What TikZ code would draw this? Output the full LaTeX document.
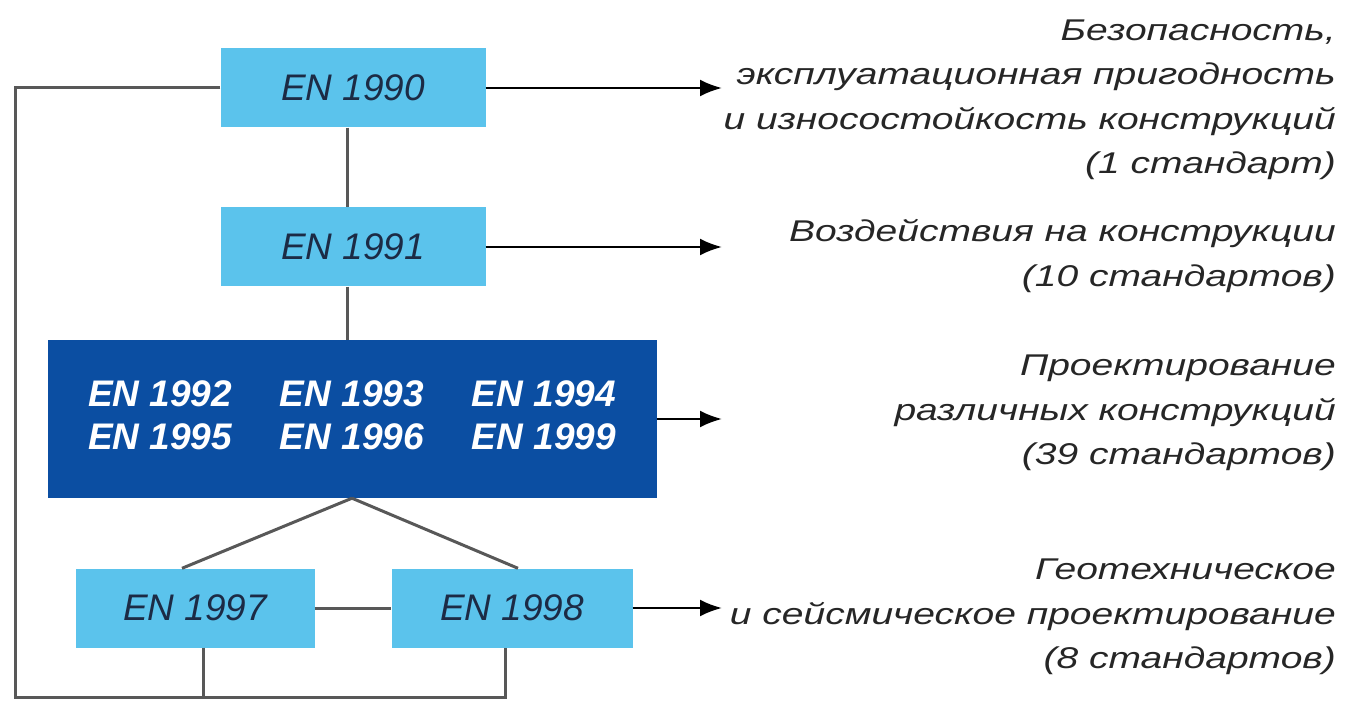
\documentclass[tikz,border=0pt]{standalone}
\usepackage{fontspec}
\setmainfont{Liberation Sans}
\newfontfamily\wide[FakeStretch=1.3]{Liberation Sans}
\usepackage{xcolor}
\usepackage{tikz}
\usetikzlibrary{positioning, calc, arrows.meta}
\definecolor{skyblue}{HTML}{5BC3EC}
\definecolor{deepblue}{HTML}{0B4EA2}
\definecolor{navytext}{HTML}{1C2B45}
\definecolor{linegray}{HTML}{585858}

\begin{document}
\begin{tikzpicture}[x=1pt,y=-1pt,
  ennode/.style={fill=skyblue, draw=none, shape=rectangle, minimum height=79pt, align=center,
    text=navytext, font=\fontsize{37}{44}\selectfont\itshape},
  groupnode/.style={fill=deepblue, draw=none, shape=rectangle, minimum width=609pt, minimum height=158pt,
    text=white, font=\fontsize{37}{43}\selectfont\bfseries\itshape},
  descr/.style={anchor=east, inner sep=0pt, align=right, text=black!85,
    font=\wide\fontsize{30}{44.5}\selectfont\itshape},
  conn/.style={draw=linegray, line width=3pt},
  outarrow/.style={-{Latex[length=22pt,width=17pt]}, draw=black, line width=2.5pt},
]
  \useasboundingbox (0,0) rectangle (1350,703);
  % boxes
  \node[ennode, minimum width=265pt] (en1990) at (353,88) {EN 1990};
  \node[ennode, minimum width=265pt] (en1991) at (353,247) {EN 1991};
  \node[groupnode] (design) at (352,419) {%
    \begin{tabular}{@{}c@{\hspace{48pt}}c@{\hspace{48pt}}c@{}}
    EN 1992 & EN 1993 & EN 1994\\
    EN 1995 & EN 1996 & EN 1999
    \end{tabular}};
  \node[ennode, minimum width=239pt] (en1997) at (195,608) {EN 1997};
  \node[ennode, minimum width=241pt] (en1998) at (512,608) {EN 1998};

  % descriptions
  \node[descr] (txtbasis) at (1336,100) {Безопасность,\\эксплуатационная пригодность\\и износостойкость конструкций\\(1 стандарт)};
  \node[descr] (txtactions) at (1336,256) {Воздействия на конструкции\\(10 стандартов)};
  \node[descr] (txtdesign) at (1336,413) {Проектирование\\различных конструкций\\(39 стандартов)};
  \node[descr] (txtgeo) at (1336,617) {Геотехническое\\и сейсмическое проектирование\\(8 стандартов)};

  % helper points
  \coordinate (loopL) at (15,697);
  \coordinate (drop97) at ([xshift=8pt]en1997.south);
  \coordinate (drop98) at ([xshift=-7pt]en1998.south);
  \coordinate (tip1) at (722,88);
  \coordinate (tip2) at (722,247);
  \coordinate (tip3) at (722,419);
  \coordinate (tip4) at (722,608);

  % connectors
  \path[conn]
    ([xshift=-6pt]en1990.south) edge ([xshift=-6pt]en1991.north)
    ([xshift=-6pt]en1991.south) edge ([xshift=-5pt]design.north)
    (design.south) edge ([xshift=-13pt]en1997.north)
    (design.south) edge ([xshift=6pt]en1998.north)
    (en1997.east) edge (en1998.west);
  \draw[conn] (en1990.west) -| (loopL) -| (drop98);
  \draw[conn] (drop97) -- (drop97 |- loopL);
  \path
    (en1990.east) edge[outarrow] (tip1)
    (en1991.east) edge[outarrow] (tip2)
    (design.east) edge[outarrow] (tip3)
    (en1998.east) edge[outarrow] (tip4);
\end{tikzpicture}
\end{document}
